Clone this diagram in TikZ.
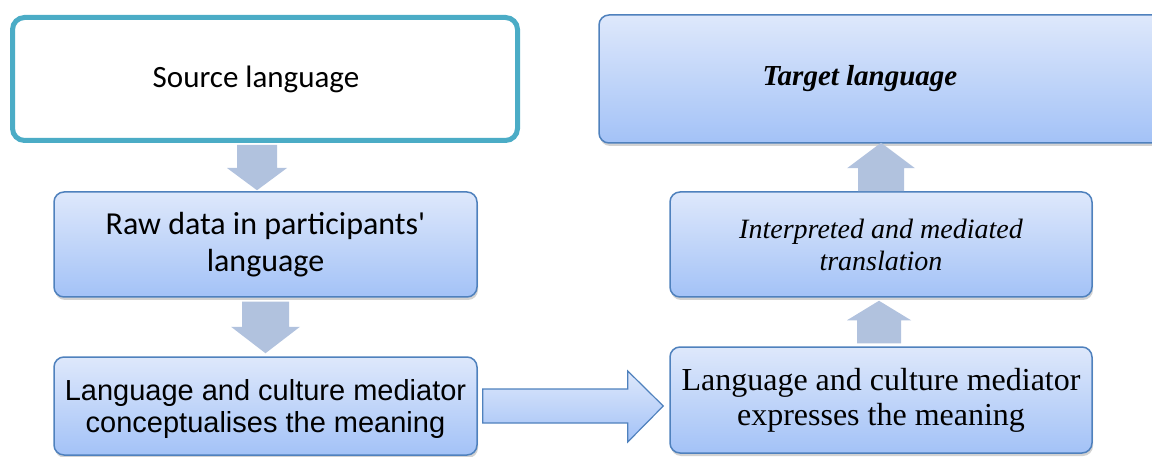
\documentclass[tikz,border=0pt]{standalone}
\usepackage{fontspec}
\usetikzlibrary{calc,shadows}
\newfontfamily\calibrifont{Carlito}
\newfontfamily\arialfont{Liberation Sans}
\newfontfamily\timesfont{Liberation Serif}
\definecolor{teal}{RGB}{75,172,198}
\definecolor{boxedge}{RGB}{79,129,189}
\definecolor{boxtop}{RGB}{222,232,251}
\definecolor{boxbottom}{RGB}{163,194,247}
\definecolor{arrowfill}{RGB}{177,194,222}
\tikzset{
  stepbox/.style={draw=boxedge, line width=1.5pt, rounded corners=10pt,
    top color=boxtop, bottom color=boxbottom, align=center, inner sep=0pt,
    drop shadow={shadow xshift=1pt, shadow yshift=-3pt, opacity=0.25, fill=black!70}},
  sourcebox/.style={draw=teal, line width=5pt, rounded corners=12pt, fill=white,
    align=center, inner sep=0pt},
  blockarrow/.style={fill=arrowfill},
  sidearrow/.style={draw=boxedge, line width=1.2pt, top color=boxtop, bottom color=boxbottom, line join=miter}
}
\begin{document}
\begin{tikzpicture}[x=1pt,y=-1pt]
\useasboundingbox (0,0) rectangle (1152,457);
\begin{scope}
\clip (0,0) rectangle (1152,457);

% boxes
\node[sourcebox, minimum width=505pt, minimum height=123pt,
  font=\calibrifont\fontsize{31pt}{37pt}\selectfont] (src) at (265,79)
  {Source language\hspace*{18pt}};
\node[stepbox, minimum width=423pt, minimum height=105pt,
  font=\calibrifont\fontsize{32pt}{37pt}\selectfont] (raw) at (265.5,244.5)
  {Raw data in participants'\\ language};
\node[stepbox, minimum width=423pt, minimum height=98pt,
  font=\arialfont\fontsize{29pt}{32pt}\selectfont] (bl) at (265.5,406)
  {\rule{0pt}{28pt}Language and culture mediator\\ conceptualises the meaning};
\node[stepbox, minimum width=422pt, minimum height=106pt,
  font=\timesfont\fontsize{32pt}{35pt}\selectfont] (br) at (881,400)
  {Language and culture mediator\\ expresses the meaning};
\node[stepbox, minimum width=422pt, minimum height=105pt,
  font=\timesfont\itshape\fontsize{28pt}{32pt}\selectfont] (interp) at (881,244.5)
  {Interpreted and mediated\\ translation};
\node[stepbox, minimum width=566pt, minimum height=128pt,
  font=\timesfont\bfseries\itshape\fontsize{29pt}{34pt}\selectfont] (target) at (882,79)
  {Target language\hspace*{44pt}};

% down arrow: source -> raw data
\fill[blockarrow] ($(src.south)+(-28,2)$) -- ($(src.south)+(12,2)$) -- ($(src.south)+(12,25)$)
  -- ($(src.south)+(22,25)$) -- ($(raw.north)+(-8.5,-1)$) -- ($(src.south)+(-38,25)$)
  -- ($(src.south)+(-28,25)$) -- cycle;
% down arrow: raw data -> conceptualises
\fill[blockarrow] ($(raw.south)+(-23.5,4)$) -- ($(raw.south)+(23.5,4)$) -- ($(raw.south)+(23.5,29)$)
  -- ($(raw.south)+(34.5,29)$) -- ($(bl.north)+(0,-3)$) -- ($(raw.south)+(-34.5,29)$)
  -- ($(raw.south)+(-23.5,29)$) -- cycle;
% up arrow: expresses -> interpreted
\fill[blockarrow] ($(br.north)+(-24,-3)$) -- ($(br.north)+(20,-3)$) -- ($(br.north)+(20,-26)$)
  -- ($(br.north)+(30,-26)$) -- ($(interp.south)+(-2,3)$) -- ($(br.north)+(-34,-26)$)
  -- ($(br.north)+(-24,-26)$) -- cycle;
% up arrow: interpreted -> target
\fill[blockarrow] ($(interp.north)+(-23,0)$) -- ($(interp.north)+(23,0)$) -- ($(interp.north)+(23,-23)$)
  -- ($(interp.north)+(34,-23)$) -- ($(target.south)+(-1,-1)$) -- ($(interp.north)+(-34,-23)$)
  -- ($(interp.north)+(-23,-23)$) -- cycle;

% side arrow: conceptualises -> expresses
\coordinate (tip) at ($(br.west)+(-6,0)$);
\draw[sidearrow] ($(bl.east)+(5,-17)$) -- ($(bl.east)+(150,-17)$) -- ($(bl.east)+(150,-35)$)
  -- (tip |- bl.east) -- ($(bl.east)+(150,36)$) -- ($(bl.east)+(150,17)$)
  -- ($(bl.east)+(5,17)$) -- cycle;
\end{scope}
\end{tikzpicture}
\end{document}
